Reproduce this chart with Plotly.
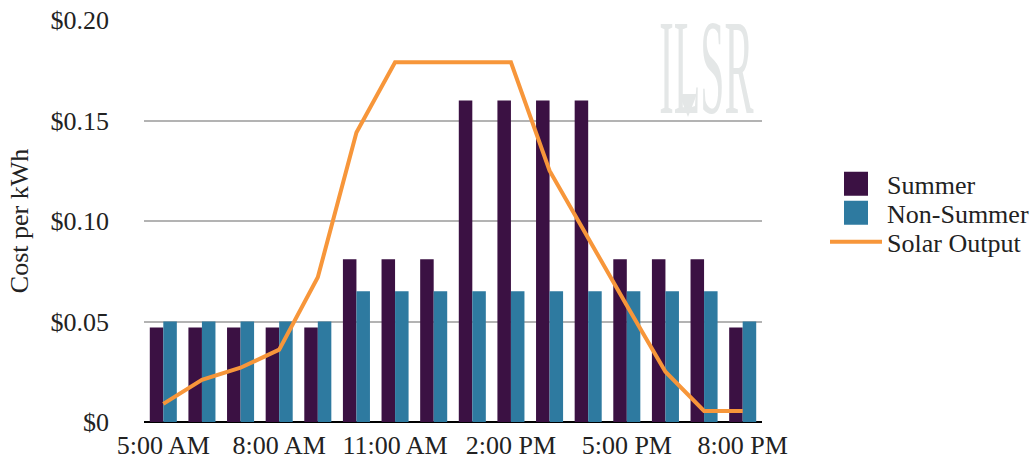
import plotly.graph_objects as go

# Hourly time-of-use rates and relative solar output
hours = ["5:00 AM", "6:00 AM", "7:00 AM", "8:00 AM", "9:00 AM", "10:00 AM",
         "11:00 AM", "12:00 PM", "1:00 PM", "2:00 PM", "3:00 PM", "4:00 PM",
         "5:00 PM", "6:00 PM", "7:00 PM", "8:00 PM"]
summer = [0.047, 0.047, 0.047, 0.047, 0.047, 0.081, 0.081, 0.081,
          0.160, 0.160, 0.160, 0.160, 0.081, 0.081, 0.081, 0.047]
non_summer = [0.050, 0.050, 0.050, 0.050, 0.050, 0.065, 0.065, 0.065,
              0.065, 0.065, 0.065, 0.065, 0.065, 0.065, 0.065, 0.050]
solar_output = [0.009, 0.021, 0.027, 0.036, 0.072, 0.144, 0.179, 0.179,
                0.179, 0.179, 0.125, 0.091, 0.058, 0.025, 0.0055, 0.0055]
tick_labels = ["5:00 AM", "8:00 AM", "11:00 AM", "2:00 PM", "5:00 PM", "8:00 PM"]
y_ticks = [0, 0.05, 0.10, 0.15, 0.20]
y_tick_text = ["$0", "$0.05", "$0.10", "$0.15", "$0.20"]

FONT = "Liberation Serif"
TEXT = "#222222"
FS = 26

# plot area in pixels
W, H = 1031, 459
L_M, R_M, T_M, B_M = 144, 269, 20, 37
PW, PH = W - L_M - R_M, H - T_M - B_M


def px_x(p):
    return (p - L_M) / PW


def px_y(p):
    return (H - B_M - p) / PH


fig = go.Figure()
fig.add_trace(go.Bar(x=hours, y=summer, name="Summer",
                     marker=dict(color="#3b1143", line=dict(width=0))))
fig.add_trace(go.Bar(x=hours, y=non_summer, name="Non-Summer",
                     marker=dict(color="#2e7aa0", line=dict(width=0))))
fig.add_trace(go.Scatter(x=hours, y=solar_output, name="Solar Output",
                         mode="lines", line=dict(color="#f7963a", width=4)))

# faint logo watermark in the upper right of the plot
fig.add_annotation(text="ILSR", xref="paper", yref="paper",
                   x=px_x(706), y=px_y(67),
                   xanchor="center", yanchor="middle", showarrow=False,
                   font=dict(family=FONT, size=136, color="#e4e7e7"))
fig.add_shape(type="path", xref="paper", yref="paper",
              path=f"M {px_x(679)},{px_y(94)} L {px_x(697)},{px_y(94)} "
                   f"L {px_x(688)},{px_y(117)} Z",
              fillcolor="#e4e7e7", line=dict(width=0), layer="above")

fig.update_layout(
    width=W, height=H,
    margin=dict(l=L_M, r=R_M, t=T_M, b=B_M, autoexpand=False),
    plot_bgcolor="white", paper_bgcolor="white",
    barmode="group", bargap=0.3, bargroupgap=0,
    font=dict(family=FONT, size=FS, color=TEXT),
    legend=dict(x=px_x(825), y=0.52, xanchor="left", yanchor="middle",
                font=dict(family=FONT, size=FS, color=TEXT),
                traceorder="normal", itemwidth=52, tracegroupgap=0),
    xaxis=dict(type="category", categoryorder="array", categoryarray=hours,
               tickmode="array", tickvals=tick_labels, ticktext=tick_labels,
               showgrid=False, showline=False, ticks="", automargin=False,
               ticklabelstandoff=5,
               tickfont=dict(family=FONT, size=FS, color=TEXT)),
    yaxis=dict(range=[0, 0.2], tickmode="array", tickvals=y_ticks,
               ticktext=y_tick_text, showgrid=True, gridcolor="#b3b3b3",
               gridwidth=2, zeroline=True, zerolinecolor="#000000",
               zerolinewidth=2, ticks="", ticklabelstandoff=34,
               automargin=False,
               title=dict(text="Cost per kWh", standoff=14,
                          font=dict(family=FONT, size=FS, color=TEXT)),
               tickfont=dict(family=FONT, size=FS, color=TEXT)),
)

# squeeze the watermark into a tall narrow logotype, and tighten the legend:
# larger swatches and closer rows
post = """
var gd = document.getElementById('{plot_id}');
gd.querySelectorAll('.annotation-text').forEach(function(t){
  if (t.textContent === 'ILSR') {
    var bb = t.getBBox();
    var cx = bb.x + bb.width / 2;
    t.setAttribute('transform', 'translate(' + cx + ',0) scale(0.32,1) translate(' + (-cx) + ',0)');
  }
});
var items = gd.querySelectorAll('.legend .traces');
var ys = [], xs = [];
items.forEach(function(g){
  var m = /translate\\(([-\\d.e]+)[ ,]+([-\\d.e]+)\\)/.exec(g.getAttribute('transform'));
  xs.push(parseFloat(m[1])); ys.push(parseFloat(m[2]));
});
var mid = (items.length - 1) / 2;
var yc = ys[Math.round(mid)];
items.forEach(function(g, i){
  g.setAttribute('transform', 'translate(' + xs[i] + ',' + (yc + (i - mid) * 29) + ')');
  g.querySelectorAll('.legendpoints path').forEach(function(p){
    var b = p.getBBox();
    if (b.width === 0 && b.height === 0) return;
    var cx = b.x + b.width / 2, cy = b.y + b.height / 2;
    if (b.height > 2) {
      p.setAttribute('d', 'M' + (cx + 12) + ',' + (cy + 12) + 'H' + (cx - 12) + 'V' + (cy - 12) + 'H' + (cx + 12) + 'Z');
    } else {
      p.setAttribute('d', 'M' + (cx - 12) + ',' + cy + 'h24');
    }
  });
});
"""

fig.write_html("out.html", post_script=post)
